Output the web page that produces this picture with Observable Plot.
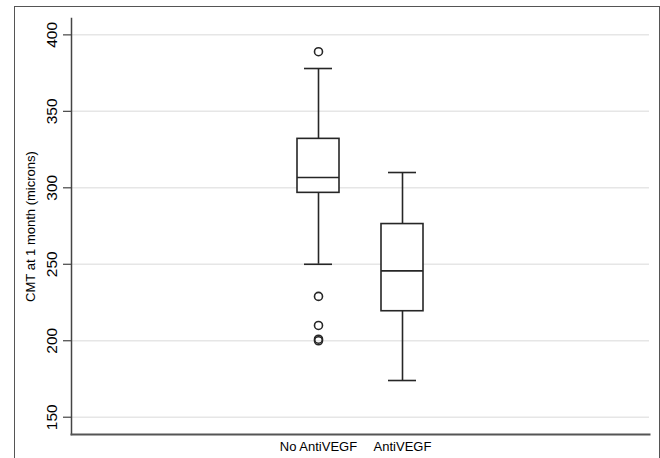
<!DOCTYPE html>
<html>
<head>
<meta charset="utf-8">
<script src="https://cdn.jsdelivr.net/npm/d3@7"></script>
<script src="https://cdn.jsdelivr.net/npm/@observablehq/plot@0.6"></script>
<style>
  html, body { margin: 0; padding: 0; background: #fff; }
  #wrap { position: relative; width: 660px; height: 458px; overflow: hidden; }
  #border { position: absolute; left: 14px; top: 6px; width: 644px; height: 470px;
            border: 1.5px solid #555; border-bottom: none; pointer-events: none; }
  svg { display: block; font-family: "Liberation Sans", Arial, sans-serif; }
</style>
</head>
<body>
<div id="wrap"><div id="border"></div></div>
<script>
const categories = ["No AntiVEGF", "AntiVEGF"];
const whiskerLow = [250, 174];
const q1 = [296.7, 219.3];
const median = [306.7, 245.7];
const q3 = [332.0, 276.3];
const whiskerHigh = [378, 310];
const outlierGroup = ["No AntiVEGF", "No AntiVEGF", "No AntiVEGF", "No AntiVEGF", "No AntiVEGF"];
const outlierValues = [389, 229, 210, 201, 200];
const yTicks = [150, 200, 250, 300, 350, 400];
const yDomain = [138.7, 410.7];
const yLabel = "CMT at 1 month (microns)";

const boxes = categories.map((c, i) => ({
  group: c, lo: whiskerLow[i], q1: q1[i], med: median[i], q3: q3[i], hi: whiskerHigh[i]
}));
const outliers = outlierValues.map((v, i) => ({group: outlierGroup[i], value: v}));

const ink = "#262626";
const chart = Plot.plot({
  width: 660,
  height: 458,
  marginLeft: 71,
  marginRight: 11,
  marginTop: 18,
  marginBottom: 24,
  style: {fontFamily: "'Liberation Sans', Arial, sans-serif", background: "transparent"},
  x: {type: "band", domain: categories, paddingInner: 0.5, paddingOuter: 2.69, label: null, axis: null},
  y: {domain: yDomain, label: null, axis: null},
  marks: [
    Plot.gridY(yTicks, {stroke: "#e6e6e6", strokeOpacity: 1, strokeWidth: 1.5}),
    Plot.axisY(yTicks, {tickSize: 8, tickFormat: () => "", stroke: "#444", strokeWidth: 1.2, label: null}),
    Plot.text(yTicks, {y: d => d, text: d => String(d), frameAnchor: "left", dx: -19, rotate: -90,
                       textAnchor: "middle", lineAnchor: "middle", fontSize: 15.5, fill: "#000"}),
    Plot.text([yLabel], {frameAnchor: "left", dx: -41, rotate: -90, textAnchor: "middle",
                         lineAnchor: "middle", fontSize: 13, fill: "#000"}),
    Plot.axisX({tickSize: 0, tickPadding: 7, fontSize: 13, label: null, fill: "#000"}),
    Plot.frame({anchor: "left", stroke: "#444", strokeWidth: 1.5}),
    Plot.frame({anchor: "bottom", stroke: "#555", strokeWidth: 2}),
    Plot.ruleX(boxes, {x: "group", y1: "lo", y2: "q1", stroke: ink, strokeWidth: 1.6}),
    Plot.ruleX(boxes, {x: "group", y1: "q3", y2: "hi", stroke: ink, strokeWidth: 1.6}),
    Plot.tickY(boxes, {x: "group", y: "lo", stroke: ink, strokeWidth: 1.6, insetLeft: 7, insetRight: 7}),
    Plot.tickY(boxes, {x: "group", y: "hi", stroke: ink, strokeWidth: 1.6, insetLeft: 7, insetRight: 7}),
    Plot.barY(boxes, {x: "group", y1: "q1", y2: "q3", fill: "white", stroke: ink, strokeWidth: 1.6}),
    Plot.tickY(boxes, {x: "group", y: "med", stroke: ink, strokeWidth: 1.6}),
    Plot.dot(outliers, {x: "group", y: "value", r: 4, stroke: ink, strokeWidth: 1.6, fill: "none"})
  ]
});
document.getElementById("wrap").prepend(chart);
</script>
</body>
</html>
